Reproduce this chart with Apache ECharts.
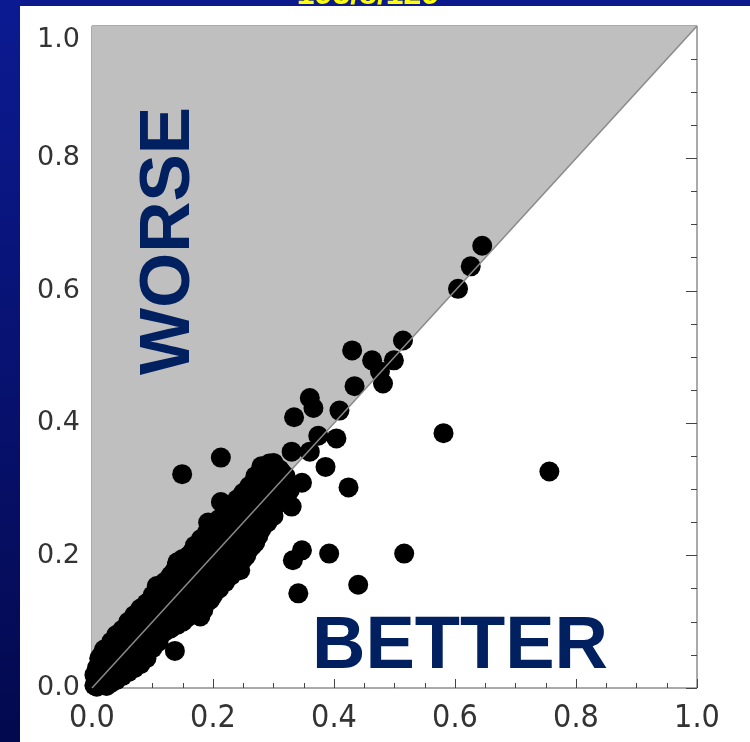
<!DOCTYPE html>
<html>
<head>
<meta charset="utf-8">
<script src="https://cdn.jsdelivr.net/npm/echarts@6/dist/echarts.min.js"></script>
<style>
  html, body { margin: 0; padding: 0; background: #fff; }
  #chart { width: 750px; height: 742px; }
</style>
</head>
<body>
<div id="chart"></div>
<script>
// axis ticks
var tickValues = [0, 0.2, 0.4, 0.6, 0.8, 1.0]

// dense band of points close to the diagonal
var bandPoints = [
  [0.004, 0.004], [0.004, 0.02],
  [0.008, 0.012], [0.008, 0.03], [0.008, 0.002],
  [0.012, 0.008], [0.012, 0.045], [0.012, 0.02],
  [0.016, 0.026], [0.016, 0.006], [0.016, 0.05],
  [0.02, 0.012], [0.02, 0.035], [0.02, 0.058],
  [0.024, 0.003], [0.024, 0.022], [0.024, 0.044],
  [0.028, 0.016], [0.028, 0.06], [0.028, 0.032],
  [0.032, 0.008], [0.032, 0.028], [0.032, 0.048], [0.032, 0.07],
  [0.036, 0.02], [0.036, 0.04], [0.036, 0.055],
  [0.04, 0.012], [0.04, 0.034], [0.04, 0.062], [0.04, 0.08],
  [0.045, 0.025], [0.045, 0.05], [0.045, 0.07],
  [0.05, 0.018], [0.05, 0.038], [0.05, 0.06], [0.05, 0.088],
  [0.055, 0.03], [0.055, 0.052], [0.055, 0.075],
  [0.06, 0.024], [0.06, 0.045], [0.06, 0.068], [0.06, 0.1],
  [0.065, 0.035], [0.065, 0.058], [0.065, 0.085],
  [0.07, 0.03], [0.07, 0.05], [0.07, 0.075], [0.07, 0.11],
  [0.075, 0.042], [0.075, 0.066], [0.075, 0.092],
  [0.08, 0.036], [0.08, 0.058], [0.08, 0.082], [0.08, 0.12],
  [0.085, 0.05], [0.085, 0.075], [0.085, 0.1],
  [0.09, 0.06], [0.09, 0.085], [0.09, 0.128], [0.09, 0.045],
  [0.095, 0.07], [0.095, 0.092], [0.095, 0.112],
  [0.1, 0.06], [0.1, 0.082], [0.1, 0.105], [0.1, 0.14],
  [0.105, 0.075], [0.105, 0.098], [0.105, 0.125],
  [0.11, 0.07], [0.11, 0.09], [0.11, 0.115], [0.11, 0.15],
  [0.115, 0.083], [0.115, 0.105], [0.115, 0.128],
  [0.12, 0.085], [0.12, 0.112], [0.12, 0.14], [0.12, 0.16],
  [0.125, 0.095], [0.125, 0.122], [0.125, 0.145],
  [0.13, 0.09], [0.13, 0.11], [0.13, 0.13], [0.13, 0.15], [0.13, 0.17],
  [0.135, 0.1], [0.135, 0.122], [0.135, 0.145], [0.135, 0.175],
  [0.14, 0.095], [0.14, 0.118], [0.14, 0.14], [0.14, 0.162], [0.14, 0.185],
  [0.145, 0.105], [0.145, 0.13], [0.145, 0.155], [0.145, 0.18],
  [0.15, 0.1], [0.15, 0.125], [0.15, 0.148], [0.15, 0.17], [0.15, 0.195],
  [0.155, 0.112], [0.155, 0.138], [0.155, 0.162], [0.155, 0.19],
  [0.16, 0.108], [0.16, 0.13], [0.16, 0.155], [0.16, 0.18], [0.16, 0.2],
  [0.165, 0.12], [0.165, 0.145], [0.165, 0.17], [0.165, 0.205],
  [0.17, 0.115], [0.17, 0.14], [0.17, 0.165], [0.17, 0.19], [0.17, 0.215],
  [0.175, 0.125], [0.175, 0.152], [0.175, 0.18], [0.175, 0.21],
  [0.18, 0.12], [0.18, 0.145], [0.18, 0.17], [0.18, 0.195], [0.18, 0.225],
  [0.185, 0.13], [0.185, 0.16], [0.185, 0.185], [0.185, 0.215],
  [0.19, 0.13], [0.19, 0.155], [0.19, 0.18], [0.19, 0.205], [0.19, 0.235],
  [0.195, 0.14], [0.195, 0.168], [0.195, 0.195], [0.195, 0.225],
  [0.2, 0.14], [0.2, 0.165], [0.2, 0.19], [0.2, 0.215], [0.2, 0.245],
  [0.205, 0.15], [0.205, 0.178], [0.205, 0.205], [0.205, 0.235],
  [0.21, 0.15], [0.21, 0.175], [0.21, 0.2], [0.21, 0.225], [0.21, 0.255],
  [0.215, 0.16], [0.215, 0.188], [0.215, 0.215], [0.215, 0.245],
  [0.22, 0.16], [0.22, 0.185], [0.22, 0.21], [0.22, 0.235], [0.22, 0.265],
  [0.225, 0.17], [0.225, 0.198], [0.225, 0.225], [0.225, 0.255],
  [0.23, 0.17], [0.23, 0.195], [0.23, 0.22], [0.23, 0.245], [0.23, 0.275],
  [0.235, 0.18], [0.235, 0.208], [0.235, 0.235], [0.235, 0.265],
  [0.24, 0.18], [0.24, 0.205], [0.24, 0.23], [0.24, 0.255], [0.24, 0.285],
  [0.245, 0.19], [0.245, 0.218], [0.245, 0.245], [0.245, 0.275],
  [0.25, 0.195], [0.25, 0.215], [0.25, 0.24], [0.25, 0.265], [0.25, 0.295],
  [0.255, 0.2], [0.255, 0.228], [0.255, 0.255], [0.255, 0.285],
  [0.26, 0.21], [0.26, 0.235], [0.26, 0.26], [0.26, 0.285], [0.26, 0.305],
  [0.265, 0.215], [0.265, 0.245], [0.265, 0.272], [0.265, 0.3],
  [0.27, 0.22], [0.27, 0.25], [0.27, 0.275], [0.27, 0.3], [0.27, 0.32],
  [0.275, 0.23], [0.275, 0.26], [0.275, 0.288], [0.275, 0.315],
  [0.28, 0.24], [0.28, 0.265], [0.28, 0.29], [0.28, 0.32], [0.28, 0.335],
  [0.29, 0.25], [0.29, 0.275], [0.29, 0.3], [0.29, 0.33],
  [0.3, 0.26], [0.3, 0.29], [0.3, 0.315], [0.3, 0.34],
  [0.31, 0.28], [0.31, 0.3], [0.31, 0.33],
  [0.32, 0.29], [0.32, 0.32]
]

// points standing apart from the band
var spreadPoints = [
  [0.645, 0.668], [0.626, 0.637], [0.605, 0.603],
  [0.514, 0.525], [0.43, 0.51], [0.463, 0.495], [0.499, 0.495],
  [0.476, 0.478], [0.481, 0.46], [0.434, 0.456],
  [0.36, 0.438], [0.366, 0.423], [0.334, 0.409], [0.409, 0.419],
  [0.374, 0.381], [0.404, 0.377], [0.581, 0.385],
  [0.33, 0.357], [0.36, 0.357], [0.386, 0.334], [0.756, 0.327],
  [0.213, 0.348], [0.149, 0.323], [0.293, 0.339], [0.272, 0.319],
  [0.314, 0.325], [0.347, 0.31], [0.327, 0.299], [0.424, 0.303],
  [0.256, 0.294], [0.33, 0.274], [0.213, 0.281], [0.192, 0.25],
  [0.225, 0.254], [0.272, 0.239],
  [0.347, 0.208], [0.332, 0.193], [0.392, 0.203], [0.516, 0.203],
  [0.44, 0.156], [0.341, 0.143],
  [0.181, 0.213], [0.141, 0.19], [0.107, 0.154], [0.137, 0.056],
  [0.245, 0.178], [0.231, 0.183], [0.184, 0.118], [0.179, 0.108],
  [0.195, 0.133]
]

var diagonal = [[0, 0], [1, 1]]

var navy = '#002060'
var labelColor = '#333'

var chart = echarts.init(document.getElementById('chart'))

chart.setOption({
  backgroundColor: '#fff',
  animation: false,
  grid: {
    left: 92,
    right: 53,
    top: 26,
    bottom: 54,
    show: true,
    backgroundColor: '#fff',
    borderColor: '#555',
    borderWidth: 1
  },
  xAxis: {
    type: 'value',
    min: 0,
    max: 1,
    interval: 0.2,
    axisLine: { show: false },
    axisTick: { show: true, inside: true, length: 9, lineStyle: { color: '#444' } },
    minorTick: { show: true, splitNumber: 4, length: 5, lineStyle: { color: '#444' } },
    splitLine: { show: false },
    axisLabel: {
      margin: 15,
      color: labelColor,
      fontFamily: '"DejaVu Sans Condensed", "DejaVu Sans", sans-serif',
      fontSize: 32,
      formatter: function (v) {
        return tickValues.indexOf(v) >= 0 ? v.toFixed(1) : ''
      }
    }
  },
  yAxis: [
    {
      type: 'value',
      position: 'left',
      min: 0,
      max: 1,
      interval: 0.2,
      axisLine: { show: false },
      axisTick: { show: false },
      splitLine: { show: false },
      axisLabel: {
        margin: 12,
        color: labelColor,
        fontFamily: '"DejaVu Sans", sans-serif',
        fontSize: 27,
        verticalAlignMaxLabel: 'top',
        formatter: function (v) {
          return v.toFixed(1)
        }
      }
    },
    {
      type: 'value',
      position: 'right',
      min: 0,
      max: 1,
      interval: 0.2,
      axisLine: { show: false },
      axisTick: { show: true, inside: true, length: 11, lineStyle: { color: '#444' } },
      minorTick: { show: true, splitNumber: 4, length: 6, lineStyle: { color: '#444' } },
      splitLine: { show: false },
      axisLabel: { show: false }
    }
  ],
  graphic: [
    {
      type: 'rect',
      left: 0,
      top: 0,
      shape: { width: 750, height: 6 },
      style: { fill: '#0c1a8e' },
      z: 100
    },
    {
      // title mostly cut off by the top edge
      type: 'text',
      x: 368,
      y: 11,
      style: {
        text: '193/8/129',
        fill: '#ffff00',
        font: 'bold 32px "Liberation Sans", Arial, sans-serif',
        textAlign: 'center',
        textVerticalAlign: 'bottom'
      },
      z: 101
    },
    {
      type: 'rect',
      left: 20,
      top: 6,
      shape: { width: 730, height: 14 },
      style: { fill: '#fff' },
      z: 102
    },
    {
      type: 'rect',
      left: 0,
      top: 0,
      shape: { width: 20, height: 742 },
      style: {
        fill: new echarts.graphic.LinearGradient(0, 0, 0, 1, [
          { offset: 0, color: '#0c1a92' },
          { offset: 1, color: '#03094e' }
        ])
      },
      z: 103
    },
    {
      type: 'text',
      x: 169,
      y: 241,
      rotation: Math.PI / 2,
      style: {
        text: 'WORSE',
        fill: navy,
        font: 'bold 71px "Liberation Sans", Arial, sans-serif',
        textAlign: 'center',
        textVerticalAlign: 'middle'
      },
      z: 100
    },
    {
      type: 'text',
      x: 460,
      y: 648,
      style: {
        text: 'BETTER',
        fill: navy,
        font: 'bold 74px "Liberation Sans", Arial, sans-serif',
        textAlign: 'center',
        textVerticalAlign: 'middle'
      },
      z: 100
    }
  ],
  series: [
    {
      // gray region above the diagonal
      type: 'line',
      data: diagonal,
      symbol: 'none',
      lineStyle: { width: 0 },
      areaStyle: { color: '#bfbfbf', origin: 'end', opacity: 1 },
      silent: true,
      z: 1
    },
    {
      type: 'scatter',
      data: bandPoints,
      symbolSize: 20,
      itemStyle: { color: '#000', opacity: 1 },
      z: 2
    },
    {
      type: 'scatter',
      data: spreadPoints,
      symbolSize: 20,
      itemStyle: { color: '#000', opacity: 1 },
      z: 2
    },
    {
      type: 'line',
      data: diagonal,
      symbol: 'none',
      lineStyle: { color: '#8a8a8a', width: 1.5 },
      silent: true,
      z: 3
    }
  ]
})
</script>
</body>
</html>
